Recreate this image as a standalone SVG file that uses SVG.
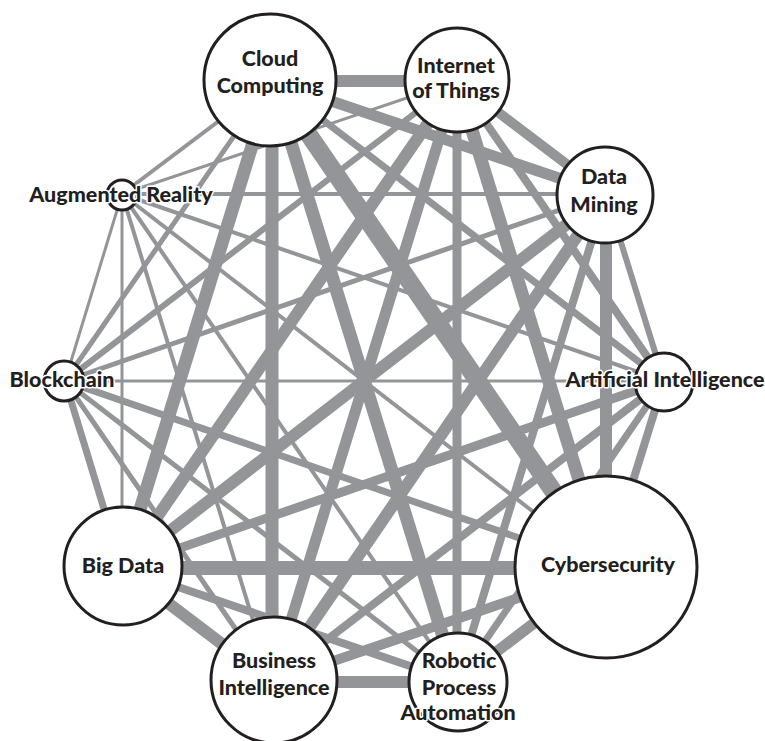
<svg xmlns="http://www.w3.org/2000/svg" width="765" height="741" viewBox="0 0 765 741">
  <style>
    .edge { stroke: #939598; fill: none; stroke-linecap: butt; }
    .node circle { fill: #ffffff; stroke: #231f20; stroke-width: 3; }
    .node text { font-family: "Lato", "Liberation Sans", sans-serif; font-weight: 900; font-size: 21.5px; fill: #231f20; text-anchor: middle; }
    .halo { stroke: #ffffff; stroke-width: 3; paint-order: stroke; stroke-linejoin: round; }
  </style>
  <rect width="765" height="741" fill="#ffffff"/>
  <g id="connectors">
    <!-- Cloud Computing -->
    <line class="edge" x1="272" y1="81" x2="457" y2="81" stroke-width="12"/>
    <line class="edge" x1="272" y1="81" x2="606" y2="194" stroke-width="11"/>
    <line class="edge" x1="272" y1="81" x2="664" y2="381" stroke-width="7"/>
    <line class="edge" x1="272" y1="81" x2="606" y2="568" stroke-width="18"/>
    <line class="edge" x1="272" y1="81" x2="457" y2="682" stroke-width="13"/>
    <line class="edge" x1="272" y1="81" x2="272" y2="682" stroke-width="13"/>
    <line class="edge" x1="272" y1="81" x2="122" y2="568" stroke-width="13"/>
    <line class="edge" x1="272" y1="81" x2="65" y2="381" stroke-width="5"/>
    <line class="edge" x1="272" y1="81" x2="122" y2="194" stroke-width="4"/>
    <!-- Internet of Things -->
    <line class="edge" x1="457" y1="81" x2="606" y2="194" stroke-width="10"/>
    <line class="edge" x1="457" y1="81" x2="664" y2="381" stroke-width="8"/>
    <line class="edge" x1="457" y1="81" x2="606" y2="568" stroke-width="13"/>
    <line class="edge" x1="457" y1="81" x2="457" y2="682" stroke-width="9"/>
    <line class="edge" x1="457" y1="81" x2="272" y2="682" stroke-width="11"/>
    <line class="edge" x1="457" y1="81" x2="122" y2="568" stroke-width="12"/>
    <line class="edge" x1="457" y1="81" x2="65" y2="381" stroke-width="6"/>
    <line class="edge" x1="457" y1="81" x2="122" y2="194" stroke-width="3"/>
    <!-- Data Mining -->
    <line class="edge" x1="606" y1="194" x2="664" y2="381" stroke-width="6"/>
    <line class="edge" x1="606" y1="194" x2="606" y2="568" stroke-width="12"/>
    <line class="edge" x1="606" y1="194" x2="457" y2="682" stroke-width="8"/>
    <line class="edge" x1="606" y1="194" x2="272" y2="682" stroke-width="12"/>
    <line class="edge" x1="606" y1="194" x2="122" y2="568" stroke-width="12"/>
    <line class="edge" x1="606" y1="194" x2="65" y2="381" stroke-width="5"/>
    <line class="edge" x1="606" y1="194" x2="122" y2="194" stroke-width="4"/>
    <!-- Artificial Intelligence -->
    <line class="edge" x1="664" y1="381" x2="606" y2="568" stroke-width="8"/>
    <line class="edge" x1="664" y1="381" x2="457" y2="682" stroke-width="7"/>
    <line class="edge" x1="664" y1="381" x2="272" y2="682" stroke-width="8"/>
    <line class="edge" x1="664" y1="381" x2="122" y2="568" stroke-width="9"/>
    <line class="edge" x1="664" y1="381" x2="65" y2="381" stroke-width="3"/>
    <line class="edge" x1="664" y1="381" x2="122" y2="194" stroke-width="4"/>
    <!-- Cybersecurity -->
    <line class="edge" x1="606" y1="568" x2="457" y2="682" stroke-width="11"/>
    <line class="edge" x1="606" y1="568" x2="272" y2="682" stroke-width="10"/>
    <line class="edge" x1="606" y1="568" x2="122" y2="568" stroke-width="14"/>
    <line class="edge" x1="606" y1="568" x2="65" y2="381" stroke-width="7"/>
    <line class="edge" x1="606" y1="568" x2="122" y2="194" stroke-width="4"/>
    <!-- Robotic Process Automation -->
    <line class="edge" x1="457" y1="682" x2="272" y2="682" stroke-width="12"/>
    <line class="edge" x1="457" y1="682" x2="122" y2="568" stroke-width="8"/>
    <line class="edge" x1="457" y1="682" x2="65" y2="381" stroke-width="5"/>
    <line class="edge" x1="457" y1="682" x2="122" y2="194" stroke-width="4"/>
    <!-- Business Intelligence -->
    <line class="edge" x1="272" y1="682" x2="122" y2="568" stroke-width="12"/>
    <line class="edge" x1="272" y1="682" x2="65" y2="381" stroke-width="5"/>
    <line class="edge" x1="272" y1="682" x2="122" y2="194" stroke-width="4"/>
    <!-- Big Data / Blockchain -->
    <line class="edge" x1="122" y1="568" x2="65" y2="381" stroke-width="7"/>
    <line class="edge" x1="122" y1="568" x2="122" y2="194" stroke-width="3"/>
    <line class="edge" x1="65" y1="381" x2="122" y2="194" stroke-width="3"/>
  </g>
  <g id="node-cloud-computing" class="node">
    <circle cx="270" cy="80" r="66"/>
    <text x="270" y="66">Cloud</text>
    <text x="270" y="93">Computing</text>
  </g>
  <g id="node-internet-of-things" class="node">
    <circle cx="457" cy="80" r="52"/>
    <text x="456" y="73">Internet</text>
    <text x="456" y="98">of Things</text>
  </g>
  <g id="node-data-mining" class="node">
    <circle cx="605" cy="195" r="48"/>
    <text x="604" y="184">Data</text>
    <text x="604" y="212">Mining</text>
  </g>
  <g id="node-artificial-intelligence" class="node">
    <circle cx="664" cy="382" r="29"/>
    <text class="halo" x="665" y="387">Artificial Intelligence</text>
  </g>
  <g id="node-cybersecurity" class="node">
    <circle cx="606" cy="567" r="91"/>
    <text x="608" y="572">Cybersecurity</text>
  </g>
  <g id="node-robotic-process-automation" class="node">
    <circle cx="458" cy="682" r="49"/>
    <text x="459" y="668">Robotic</text>
    <text x="459" y="695">Process</text>
    <text class="halo" x="458" y="720">Automation</text>
  </g>
  <g id="node-business-intelligence" class="node">
    <circle cx="274" cy="680" r="63"/>
    <text x="274" y="668">Business</text>
    <text x="274" y="695">Intelligence</text>
  </g>
  <g id="node-big-data" class="node">
    <circle cx="123" cy="566" r="59"/>
    <text x="123" y="573">Big Data</text>
  </g>
  <g id="node-blockchain" class="node">
    <circle cx="64" cy="381" r="20"/>
    <text class="halo" x="62" y="387">Blockchain</text>
  </g>
  <g id="node-augmented-reality" class="node">
    <circle cx="122" cy="195" r="15"/>
    <text class="halo" x="121" y="202">Augmented Reality</text>
  </g>
</svg>
